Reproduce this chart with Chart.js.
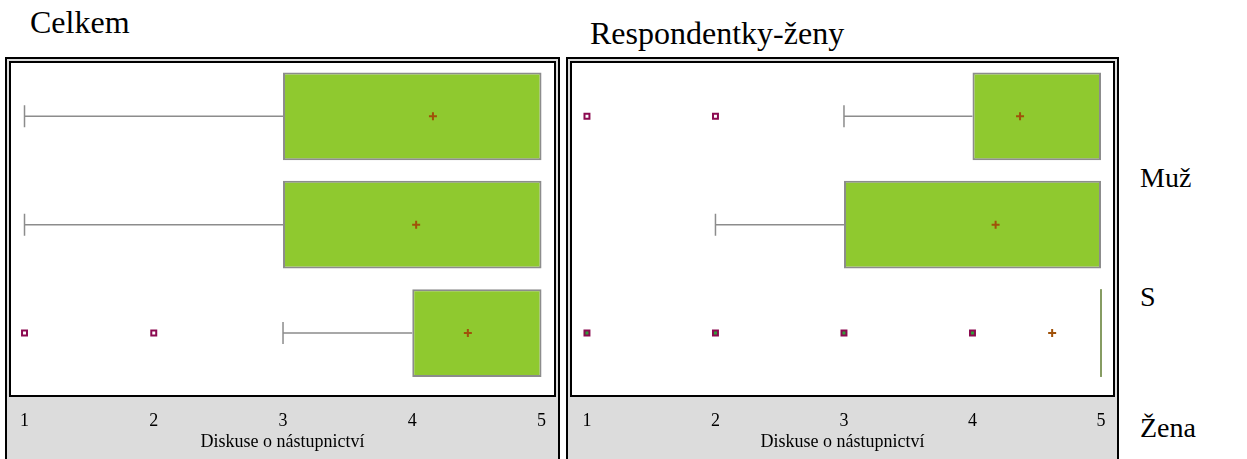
<!DOCTYPE html>
<html>
<head>
<meta charset="utf-8">
<script src="https://cdn.jsdelivr.net/npm/chart.js@4"></script>
<style>
  body { margin:0; width:1247px; height:459px; overflow:hidden; background:#fff; font-family:"Liberation Serif","Times New Roman",serif; }
  .lbl { position:absolute; font-size:28px; color:#000; line-height:1; white-space:nowrap; }
  .frame { position:absolute; top:57px; height:410px; border:2px solid #000; background:#dcdcdc; }
  .frame canvas { position:absolute; left:0; top:0; }
</style>
</head>
<body>
<div class="lbl" style="left:30px;top:6px;font-size:32px">Celkem</div>
<div class="lbl" style="left:590px;top:17px;font-size:32px">Respondentky-ženy</div>
<div class="lbl" style="left:1140px;top:164px">Muž</div>
<div class="lbl" style="left:1140px;top:283px">S</div>
<div class="lbl" style="left:1140px;top:414px">Žena</div>

<div class="frame" style="left:5px;width:551px"><canvas id="left" width="551" height="400"></canvas></div>
<div class="frame" style="left:566px;width:549px"><canvas id="right" width="549" height="400"></canvas></div>

<script>
var categories = ['Muž', 'S', 'Žena'];
var tickValues = [1, 2, 3, 4, 5];
var axisTitle = 'Diskuse o nástupnictví';

// Celkem
var leftQ1 = [3, 3, 4];
var leftQ3 = [5, 5, 5];
var leftMedian = [5, 5, 5];
var leftWhiskerLow = [1, 1, 3];
var leftMean = [4.16, 4.03, 4.43];
var leftOutliers = [[], [], [1, 2]];

// Respondentky-ženy
var rightQ1 = [4, 3, 5];
var rightQ3 = [5, 5, 5];
var rightMedian = [5, 5, 5];
var rightWhiskerLow = [3, 2, 5];
var rightMean = [4.37, 4.18, 4.62];
var rightOutliers = [[1, 2], [], [1, 2, 3, 4]];

var boxPlugin = {
  id: 'boxExtras',
  beforeDraw: function(chart) {
    var a = chart.chartArea, c = chart.ctx;
    c.save();
    c.fillStyle = '#fff';
    c.fillRect(a.left, a.top, a.right - a.left, a.bottom - a.top);
    c.restore();
  },
  beforeDatasetsDraw: function(chart) {
    var o = chart.options.plugins.boxExtras;
    var x = chart.scales.x, y = chart.scales.y, c = chart.ctx;
    c.save();
    c.strokeStyle = '#8c8c8c';
    c.lineWidth = 1.5;
    for (var i = 0; i < o.low.length; i++) {
      if (o.low[i] >= o.q1[i]) continue;
      var py = y.getPixelForValue(i + 1);
      var p0 = x.getPixelForValue(o.low[i]), p1 = x.getPixelForValue(o.q1[i]);
      c.beginPath();
      c.moveTo(p0, py); c.lineTo(p1, py);
      c.moveTo(p0, py - 11); c.lineTo(p0, py + 11);
      c.stroke();
    }
    c.restore();
  },
  afterDatasetsDraw: function(chart) {
    var o = chart.options.plugins.boxExtras;
    var x = chart.scales.x, c = chart.ctx;
    var bars = chart.getDatasetMeta(0).data;
    c.save();
    c.lineWidth = 2;
    for (var i = 0; i < o.median.length; i++) {
      var el = bars[i];
      var px = x.getPixelForValue(o.median[i]);
      if (o.q1[i] == o.q3[i]) c.strokeStyle = '#869c62';
      else if (o.median[i] > o.q1[i] && o.median[i] < o.q3[i]) c.strokeStyle = '#8c8c8c';
      else continue;
      c.beginPath();
      c.moveTo(px, el.y - el.height / 2); c.lineTo(px, el.y + el.height / 2);
      c.stroke();
    }
    var a = chart.chartArea;
    c.strokeStyle = '#000';
    c.lineWidth = 2;
    c.strokeRect(a.left + 1, a.top + 1, a.right - a.left - 2, a.bottom - a.top - 2);
    c.restore();
  }
};

function makePanel(id, q1, q3, med, low, mean, outliers, xMin, xMax) {
  var outPts = [], outFill = [];
  outliers.forEach(function(row, i) {
    row.forEach(function(v) {
      outPts.push({x: v, y: i + 1});
      outFill.push(row.length > 2 ? '#2f9e3a' : '#fff');
    });
  });
  return new Chart(document.getElementById(id), {
    type: 'bar',
    data: {
      labels: categories,
      datasets: [{
        type: 'bar',
        indexAxis: 'y',
        order: 1,
        data: q1.map(function(v, i) { return {x: [v, q3[i]], y: i + 1}; }),
        backgroundColor: '#8fc92f',
        borderColor: '#8c8c8c',
        borderWidth: 2,
        borderSkipped: false,
        barPercentage: 0.81,
        categoryPercentage: 1
      }, {
        type: 'scatter',
        order: 0,
        data: mean.map(function(v, i) { return {x: v, y: i + 1}; }),
        pointStyle: 'crossRot',
        rotation: 45,
        pointRadius: 4,
        borderColor: '#a0520a',
        borderWidth: 2
      }, {
        type: 'scatter',
        order: 0,
        data: outPts,
        pointStyle: 'rect',
        pointRadius: 3.5,
        borderColor: '#8b0a50',
        backgroundColor: outFill,
        borderWidth: 2
      }]
    },
    options: {
      responsive: false,
      animation: false,
      layout: { autoPadding: false, padding: { top: 2, left: 2, right: 2, bottom: 0 } },
      plugins: {
        legend: { display: false },
        tooltip: { enabled: false },
        boxExtras: { q1: q1, q3: q3, median: med, low: low }
      },
      scales: {
        x: {
          type: 'linear',
          position: 'bottom',
          offset: false,
          min: xMin,
          max: xMax,
          afterBuildTicks: function(s) { s.ticks = tickValues.map(function(v) { return {value: v}; }); },
          afterFit: function(s) { s.height = 62; s.paddingLeft = 0; s.paddingRight = 0; },
          grid: { display: false, drawTicks: false, offset: false },
          border: { display: false },
          ticks: { color: '#000', padding: 13, font: { family: 'Liberation Serif', size: 18 } },
          title: { display: true, text: axisTitle, color: '#000', padding: { top: 0, bottom: 6 }, font: { family: 'Liberation Serif', size: 18 } }
        },
        y: {
          type: 'linear', display: false, offset: false, grid: { offset: false },
          reverse: true, min: 0.49, max: 3.59,
          afterBuildTicks: function(s) { s.ticks = categories.map(function(c, i) { return {value: i + 1}; }); }
        }
      }
    },
    plugins: [boxPlugin]
  });
}

makePanel('left', leftQ1, leftQ3, leftMedian, leftWhiskerLow, leftMean, leftOutliers, 0.88, 5.112);
makePanel('right', rightQ1, rightQ3, rightMedian, rightWhiskerLow, rightMean, rightOutliers, 0.868, 5.109);
</script>
</body>
</html>
